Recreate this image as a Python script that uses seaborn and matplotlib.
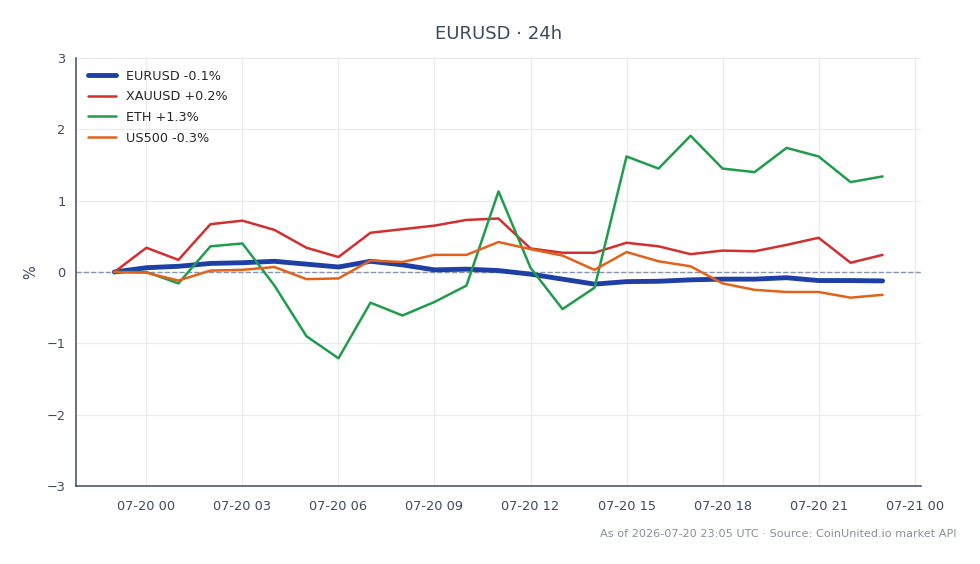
import pandas as pd
import numpy as np
import seaborn as sns
import matplotlib.pyplot as plt
import matplotlib.dates as mdates

# hourly % change since 07-19 23:00 UTC
times = pd.date_range('2026-07-19 23:00', '2026-07-20 23:00', freq='h')

eurusd = [0.0, 0.06, 0.08, 0.12, 0.13, 0.15, 0.11, 0.07, 0.15, 0.10, 0.03, 0.04, 0.02,
          -0.03, -0.10, -0.17, -0.135, -0.13, -0.11, -0.10, -0.10, -0.08, -0.12, -0.12, -0.125]
xauusd = [0.0, 0.34, 0.17, 0.67, 0.72, 0.59, 0.34, 0.21, 0.55, 0.60, 0.65, 0.73, 0.75,
          0.33, 0.27, 0.27, 0.41, 0.36, 0.25, 0.30, 0.29, 0.38, 0.48, 0.13, 0.24]
eth = [0.0, 0.0, -0.16, 0.36, 0.40, -0.19, -0.90, -1.21, -0.43, -0.61, -0.42, -0.19, 1.13,
       0.06, -0.52, -0.22, 1.62, 1.45, 1.91, 1.45, 1.40, 1.74, 1.62, 1.26, 1.34]
us500 = [0.0, -0.01, -0.12, 0.02, 0.03, 0.07, -0.10, -0.09, 0.16, 0.14, 0.24, 0.24, 0.42,
         0.32, 0.23, 0.03, 0.28, 0.15, 0.08, -0.16, -0.25, -0.28, -0.28, -0.36, -0.32]

labels = ['EURUSD -0.1%', 'XAUUSD +0.2%', 'ETH +1.3%', 'US500 -0.3%']
colors = ['#1e3fa6', '#d22f2f', '#1f9d4b', '#e2621b']
widths = [3.5, 1.8, 1.8, 1.8]

sns.set_style('white')
plt.rcParams['font.family'] = ['DejaVu Sans']

fig = plt.figure(figsize=(9.8, 5.64), dpi=100)
ax = fig.add_axes([76 / 980, 1 - 486 / 564, (921 - 76) / 980, (486 - 58) / 564])

for vals, lab, col, lw in zip([eurusd, xauusd, eth, us500], labels, colors, widths):
    sns.lineplot(x=times, y=vals, label=lab, color=col, linewidth=lw, ax=ax, zorder=3)

ax.axhline(0, color='#8a94aa', linestyle='--', linewidth=1, zorder=2)
ax.set_ylim(-3, 3)
ax.set_yticks([-3, -2, -1, 0, 1, 2, 3])
ax.xaxis.set_major_locator(mdates.HourLocator(byhour=[0, 3, 6, 9, 12, 15, 18, 21]))
ax.xaxis.set_major_formatter(mdates.DateFormatter('%m-%d %H'))

ax.grid(True, color='#e8ebef', linewidth=0.8)
ax.set_axisbelow(True)
for s in ['top', 'right']:
    ax.spines[s].set_visible(False)
for s in ['left', 'bottom']:
    ax.spines[s].set_color('#3c4a5c')
    ax.spines[s].set_linewidth(1.1)
ax.tick_params(axis='both', colors='#3c4a5c', labelsize=9.3, length=4, width=1, labelcolor='#3c4a5c')
ax.tick_params(axis='x', pad=6)
ax.set_xlabel('')
ax.set_ylabel('%', color='#3c4a5c', fontsize=10.5)
ax.yaxis.labelpad = 6

ax.legend(loc='upper left', frameon=False, fontsize=9.2, handlelength=2.2, labelspacing=0.6)
ax.set_title('EURUSD · 24h', fontsize=13, color='#3c4a5c', pad=14)

fig.text(956 / 980, 1 - 534 / 564, 'As of 2026-07-20 23:05 UTC · Source: CoinUnited.io market API',
         ha='right', va='center', fontsize=8.1, color='#8a9099')

fig.savefig('out.png', dpi=100)
